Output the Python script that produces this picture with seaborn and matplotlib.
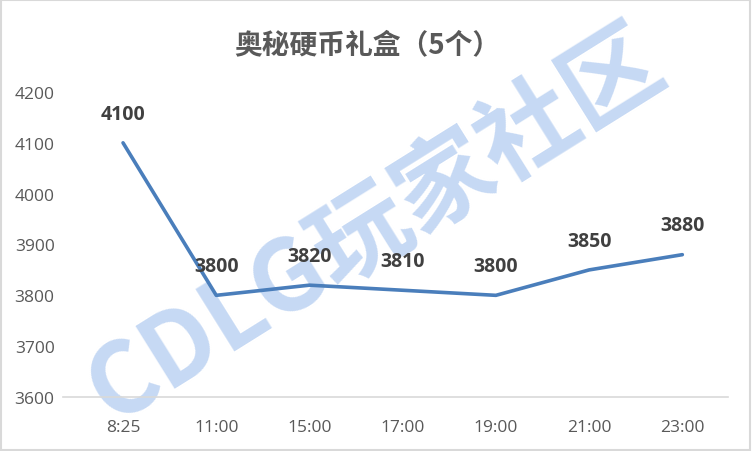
import matplotlib
matplotlib.use("Agg")
import matplotlib.pyplot as plt
import matplotlib.patches as mpatches
import pandas as pd
import seaborn as sns

times = ["8:25", "11:00", "15:00", "17:00", "19:00", "21:00", "23:00"]
prices = [4100, 3800, 3820, 3810, 3800, 3850, 3880]
title = "奥秘硬币礼盒（5个）"
watermark = "CDLG玩家社区"

sns.set_style("white")
plt.rcParams['font.family'] = ['Noto Sans CJK SC', 'DejaVu Sans']
num_font = ['Open Sans', 'DejaVu Sans']

df = pd.DataFrame({"time": times, "price": prices})
df["pos"] = range(len(df))

fig = plt.figure(figsize=(7.52, 4.52), dpi=100)

# watermark behind everything
fig.text(0.50, 0.50, watermark, fontsize=71, fontweight="heavy", color="#c6d9f4",
         rotation=32, ha="center", va="center", zorder=0)

ax = fig.add_axes([63 / 752, 1 - 398 / 452, (728 - 63) / 752, (398 - 93) / 452])
ax.set_facecolor("none")
ax.set_zorder(2)

sns.lineplot(data=df, x="pos", y="price", ax=ax, color="#4a7ebb", linewidth=2.6,
             solid_capstyle="round", zorder=3)

for x, y in zip(df["pos"], df["price"]):
    ax.annotate(f"{y}", (x, y), xytext=(0, 21), textcoords="offset points",
                ha="center", va="center", fontsize=14, fontweight="bold", color="#404040",
                family=num_font)

ax.set_xlim(-0.644, 6.49)
ax.set_ylim(3600, 4200)
ax.set_xticks(df["pos"])
ax.set_xticklabels(times, family=num_font)
ax.set_yticks(range(3600, 4201, 100))
ax.set_yticklabels([str(v) for v in range(3600, 4201, 100)], family=num_font)
ax.tick_params(axis="x", length=0, pad=16, labelsize=12.5, labelcolor="#595959")
ax.tick_params(axis="y", length=0, pad=6, labelsize=12.5, labelcolor="#595959")
ax.set_xlabel("")
ax.set_ylabel("")
for s in ["top", "right", "left"]:
    ax.spines[s].set_visible(False)
ax.spines["bottom"].set_color("#d9d9d9")
ax.spines["bottom"].set_linewidth(1.2)

fig.text(0.488, 1 - 45 / 452, title, fontsize=20, fontweight="bold", color="#595959",
         ha="center", va="center", zorder=5)

fig.patches.append(mpatches.Rectangle((0.001, 0.002), 0.997, 0.995, transform=fig.transFigure,
                                      fill=False, edgecolor="#d9d9d9", linewidth=1.5))

fig.savefig("out.png", dpi=100)
